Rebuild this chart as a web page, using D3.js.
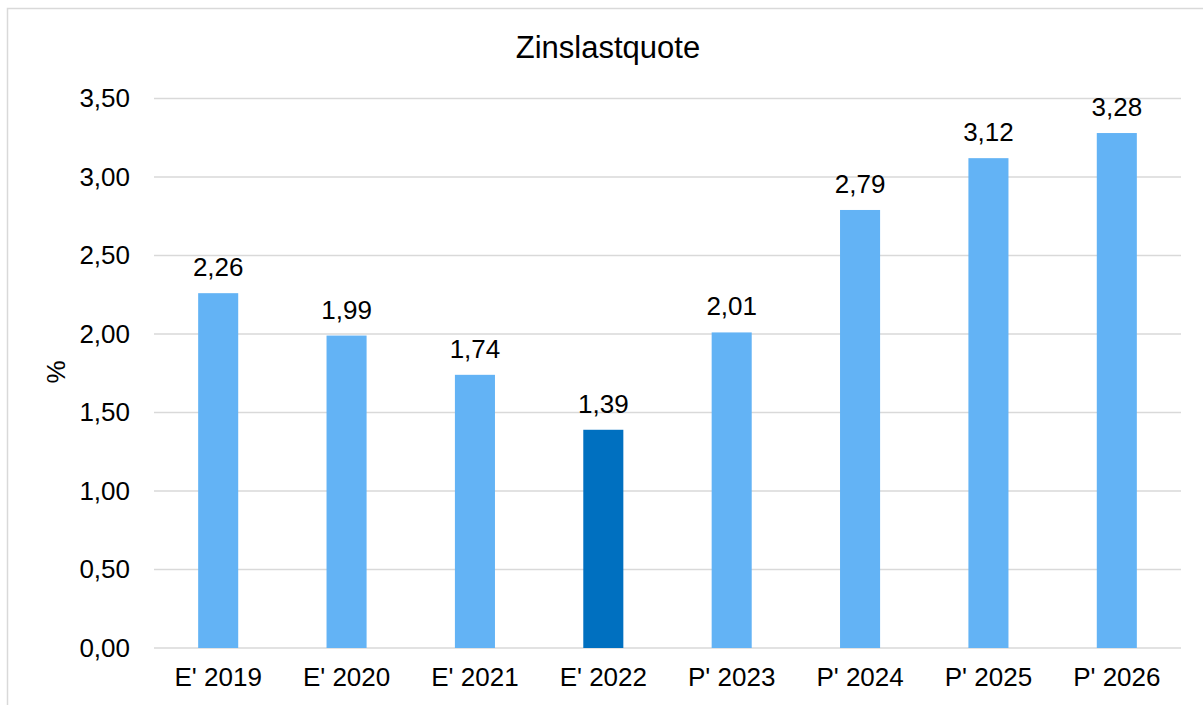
<!DOCTYPE html>
<html>
<head>
<meta charset="utf-8">
<script src="https://cdn.jsdelivr.net/npm/d3@7"></script>
<style>
  body { margin: 0; background: #fff; }
  text { font-family: "Liberation Sans", Arial, sans-serif; fill: #000; }
</style>
</head>
<body>
<div id="chart"></div>
<script>
// data
const categories = ["E' 2019", "E' 2020", "E' 2021", "E' 2022", "P' 2023", "P' 2024", "P' 2025", "P' 2026"];
const values = [2.26, 1.99, 1.74, 1.39, 2.01, 2.79, 3.12, 3.28];
const yTicks = [0, 0.5, 1, 1.5, 2, 2.5, 3, 3.5];
const highlight = "E' 2022";

const W = 1203, H = 705;
const margin = {top: 98.5, right: 22, bottom: 57, left: 154};
const width = W - margin.left - margin.right,
      height = H - margin.top - margin.bottom;

const fmt = v => d3.format(".2f")(v).replace(".", ",");

const svg = d3.select("#chart")
    .append("svg")
    .attr("width", W)
    .attr("height", H);

// outer frame (cut at right/bottom like the original)
svg.append("rect")
    .attr("x", 7.5).attr("y", 8.5)
    .attr("width", W + 10).attr("height", H + 10)
    .attr("fill", "none")
    .attr("stroke", "#d9d9d9")
    .attr("stroke-width", 1.5);

const g = svg.append("g")
    .attr("transform", `translate(${margin.left},${margin.top})`);

const x = d3.scaleBand()
    .domain(categories)
    .range([0, width])
    .paddingInner(0.688)
    .paddingOuter(0.344);

const y = d3.scaleLinear()
    .domain([0, 3.5])
    .range([height, 0]);

// gridlines
g.append("g")
    .selectAll("line")
    .data(yTicks)
    .enter()
    .append("line")
    .attr("x1", 0).attr("x2", width)
    .attr("y1", d => y(d)).attr("y2", d => y(d))
    .attr("stroke", "#d9d9d9")
    .attr("stroke-width", 1.5);

// y axis labels
const yAxis = g.append("g")
    .call(d3.axisLeft(y).tickValues(yTicks).tickFormat(fmt).tickSize(0).tickPadding(24));
yAxis.select(".domain").remove();
yAxis.selectAll("text").style("font-size", "26px").style("font-family", "Liberation Sans, Arial, sans-serif");

// x axis labels
const xAxis = g.append("g")
    .attr("transform", `translate(0,${height})`)
    .call(d3.axisBottom(x).tickSize(0).tickPadding(20));
xAxis.select(".domain").remove();
xAxis.selectAll("text").style("font-size", "26px").style("font-family", "Liberation Sans, Arial, sans-serif");

// bars
g.append("g")
    .selectAll("rect")
    .data(values)
    .enter()
    .append("rect")
    .attr("x", (d, i) => x(categories[i]))
    .attr("y", d => y(d))
    .attr("width", x.bandwidth())
    .attr("height", d => height - y(d))
    .attr("fill", (d, i) => categories[i] === highlight ? "#0070c0" : "#63b3f5");

// value labels
g.append("g")
    .selectAll("text")
    .data(values)
    .enter()
    .append("text")
    .attr("x", (d, i) => x(categories[i]) + x.bandwidth() / 2)
    .attr("y", d => y(d) - 17)
    .attr("text-anchor", "middle")
    .style("font-size", "26px")
    .text(d => fmt(d));

// title
svg.append("text")
    .attr("x", 608)
    .attr("y", 58)
    .attr("text-anchor", "middle")
    .style("font-size", "31px")
    .text("Zinslastquote");

// y axis title
svg.append("text")
    .attr("transform", `translate(65,372) rotate(-90)`)
    .attr("text-anchor", "middle")
    .style("font-size", "26px")
    .text("%");
</script>
</body>
</html>
